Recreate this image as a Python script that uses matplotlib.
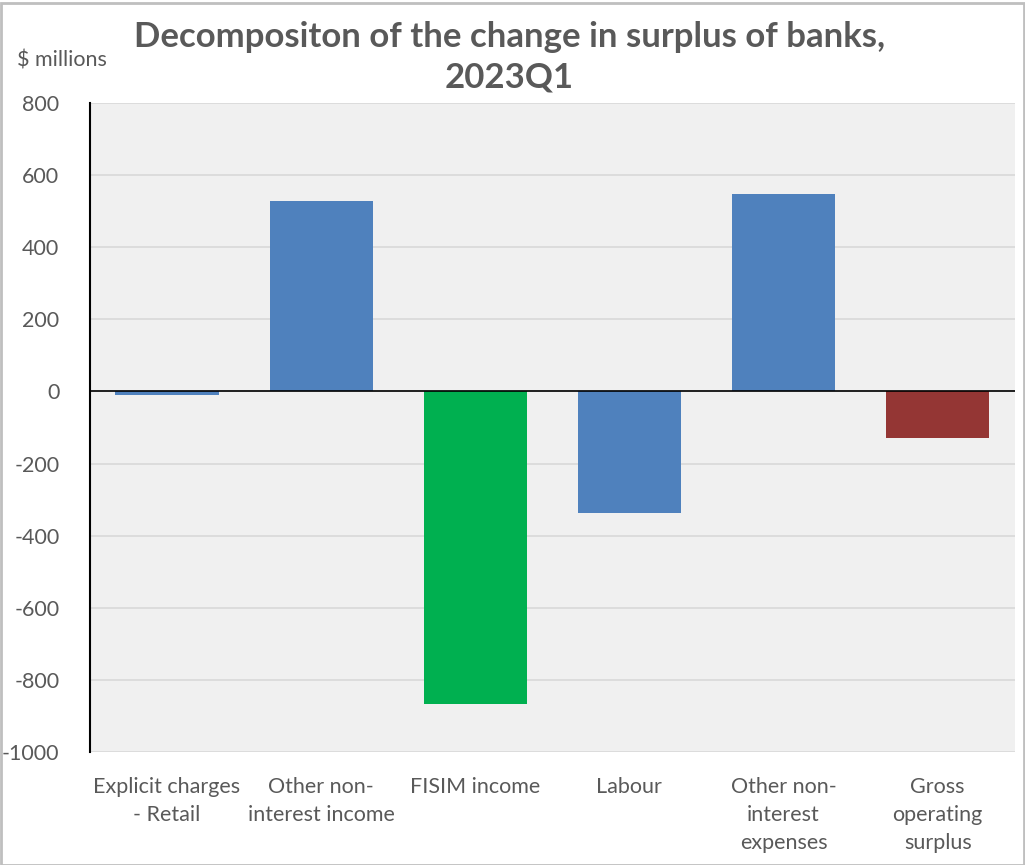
import numpy as np
import matplotlib.pyplot as plt
from matplotlib.patches import Rectangle

# data
categories = ['Explicit charges\n- Retail', 'Other non-\ninterest income', 'FISIM income',
              'Labour', 'Other non-\ninterest\nexpenses', 'Gross\noperating\nsurplus']
values = [-10, 528, -866, -336, 547, -129]
colors = ['#4F81BD', '#4F81BD', '#00B050', '#4F81BD', '#4F81BD', '#943634']
yticks = [-1000, -800, -600, -400, -200, 0, 200, 400, 600, 800]

plt.rcParams['font.family'] = ['Lato', 'DejaVu Sans']
text_color = '#595959'

fig = plt.figure(figsize=(10.25, 8.65), dpi=100)
ax = fig.add_axes([0.0878, 0.1306, 0.9022, 0.7504])
ax.set_facecolor('#F0F0F0')

x = np.arange(len(categories))
ax.bar(x, values, width=0.67, color=colors, zorder=3)

ax.set_xlim(-0.5, len(categories) - 0.5)
ax.set_ylim(-1000, 800)
ax.set_yticks(yticks)
ax.set_yticklabels([str(t) for t in yticks], fontsize=15.5, color=text_color)
ax.set_xticks(x)
ax.set_xticklabels(categories, fontsize=15.5, color=text_color, linespacing=1.5)
ax.tick_params(axis='x', length=0, pad=18)
ax.tick_params(axis='y', length=0, pad=22)

ax.grid(axis='y', color='#D9D9D9', linewidth=1.2, zorder=0)
ax.axhline(0, color='black', linewidth=1.2, zorder=4)
for side in ['top', 'right', 'bottom']:
    ax.spines[side].set_visible(False)
ax.spines['left'].set_color('black')
ax.spines['left'].set_linewidth(1.5)

fig.text(0.497, 0.934, 'Decompositon of the change in surplus of banks,\n2023Q1',
         ha='center', va='center', fontsize=25, fontweight='bold', color=text_color,
         linespacing=1.35)
fig.text(0.017, 0.930, '$ millions', ha='left', va='center', fontsize=15.5, color=text_color)

# thin grey frame like the exported chart
fig.patches.append(Rectangle((0.001, 0.0), 0.998, 0.997, transform=fig.transFigure,
                             fill=False, edgecolor='#BFBFBF', linewidth=2))

fig.savefig('out.png', dpi=100)
